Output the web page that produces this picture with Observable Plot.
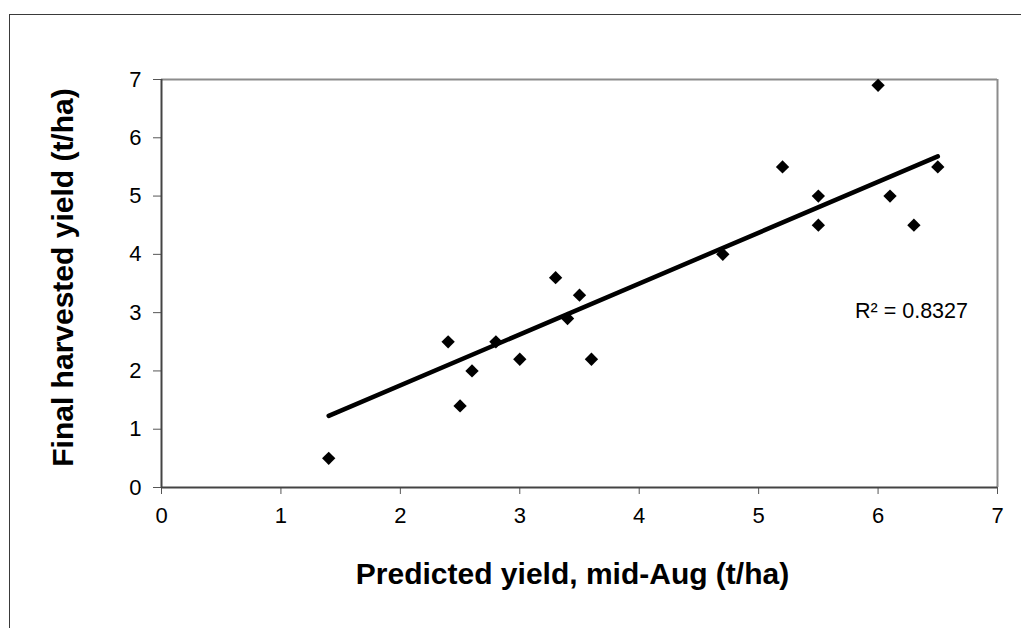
<!DOCTYPE html>
<html>
<head>
<meta charset="utf-8">
<script src="https://cdn.jsdelivr.net/npm/d3@7"></script>
<script src="https://cdn.jsdelivr.net/npm/@observablehq/plot@0.6"></script>
<style>
  html, body { margin: 0; padding: 0; background: #fff; overflow: hidden; }
  #wrap { position: relative; width: 1021px; height: 628px; }
  #border { position: absolute; left: 9px; top: 14px; width: 1200px; height: 800px; border: 1px solid #3a3a3a; box-sizing: border-box; }
  #chart { position: absolute; left: 0; top: 0; }
</style>
</head>
<body>
<div id="wrap"><div id="border"></div><div id="chart"></div></div>
<script>
const predicted = [1.4, 2.4, 2.5, 2.6, 2.8, 3.0, 3.3, 3.4, 3.5, 3.6, 4.7, 5.2, 5.5, 5.5, 6.0, 6.1, 6.3, 6.5];
const harvested = [0.5, 2.5, 1.4, 2.0, 2.5, 2.2, 3.6, 2.9, 3.3, 2.2, 4.0, 5.5, 5.0, 4.5, 6.9, 5.0, 4.5, 5.5];
// Trend line as drawn in the reference (endpoints)
const trendX = [1.4, 6.5];
const trendY = [1.23, 5.68];
const xTicks = [0, 1, 2, 3, 4, 5, 6, 7];
const yTicks = [0, 1, 2, 3, 4, 5, 6, 7];
const xTitle = "Predicted yield, mid-Aug (t/ha)";
const yTitle = "Final harvested yield (t/ha)";
const r2Label = "R² = 0.8327";

const data = predicted.map((x, i) => ({x, y: harvested[i]}));
const trend = trendX.map((x, i) => ({x, y: trendY[i]}));

const chart = Plot.plot({
  width: 1021,
  height: 628,
  marginLeft: 161,
  marginRight: 24,
  marginTop: 79,
  marginBottom: 141,
  style: {fontFamily: "'Liberation Sans', Arial, sans-serif", background: "transparent", color: "#000"},
  x: {domain: [0, 7]},
  y: {domain: [0, 7]},
  marks: [
    Plot.ruleY([7], {stroke: "#8c8c8c", strokeWidth: 2}),
    Plot.ruleX([7], {stroke: "#8c8c8c", strokeWidth: 2}),
    Plot.axisX({ticks: xTicks, tickSize: 7, tickPadding: 13, fontSize: 22, label: null, stroke: "#555", fill: "#000", tickFormat: d3.format("d")}),
    Plot.axisY({ticks: yTicks, tickSize: 8, tickPadding: 12, fontSize: 22, label: null, stroke: "#555", fill: "#000", tickFormat: d3.format("d")}),
    Plot.ruleY([0], {stroke: "#444", strokeWidth: 2}),
    Plot.ruleX([0], {stroke: "#444", strokeWidth: 2}),
    Plot.line(trend, {x: "x", y: "y", stroke: "#000", strokeWidth: 4.5, strokeLinecap: "round"}),
    Plot.dot(data, {x: "x", y: "y", symbol: "diamond2", r: 6, fill: "#000", stroke: "none"}),
    Plot.text([r2Label], {frameAnchor: "right", text: d => d, dx: -86, dy: 28, textAnchor: "middle", fontSize: 21.5, fill: "#000"}),
    Plot.text([xTitle], {frameAnchor: "bottom", text: d => d, dx: -7, dy: 96, textAnchor: "middle", fontSize: 30, fontWeight: "bold", fill: "#000"}),
    Plot.text([yTitle], {frameAnchor: "left", text: d => d, dx: -98, dy: -6, textAnchor: "middle", rotate: -90, fontSize: 30, fontWeight: "bold", fill: "#000"})
  ]
});
document.getElementById("chart").appendChild(chart);
</script>
</body>
</html>
